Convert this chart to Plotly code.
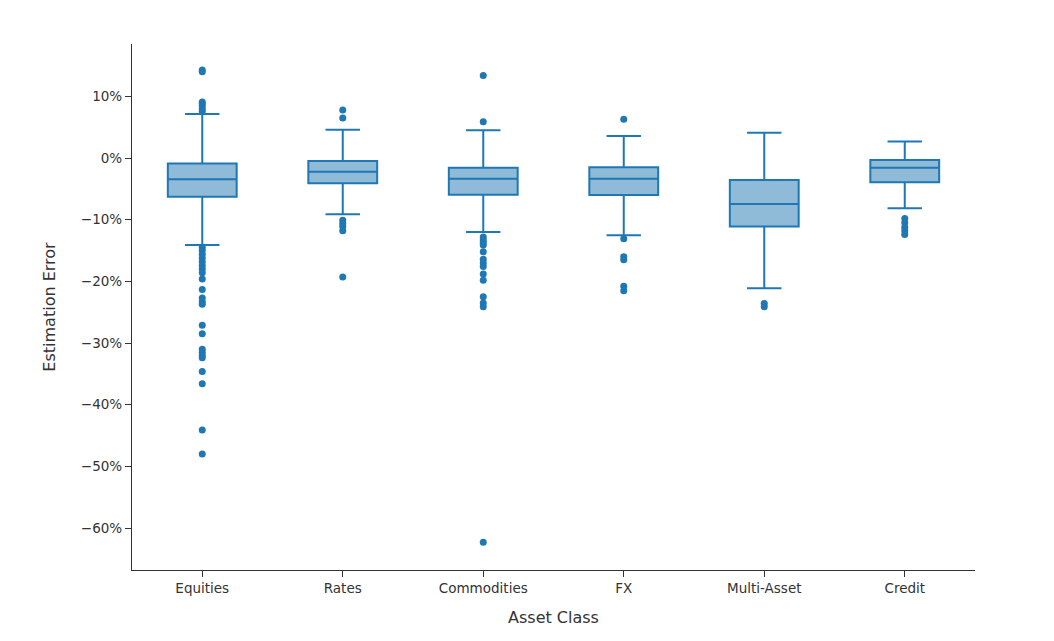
import plotly.graph_objects as go

categories = ["Equities", "Rates", "Commodities", "FX", "Multi-Asset", "Credit"]
q1 = [-6.27, -4.1, -5.95, -6.0, -11.1, -3.9]
median = [-3.45, -2.2, -3.35, -3.35, -7.45, -1.57]
q3 = [-0.86, -0.49, -1.57, -1.5, -3.57, -0.32]
lower_fence = [-14.1, -9.1, -12.0, -12.5, -21.1, -8.15]
upper_fence = [7.13, 4.6, 4.5, 3.57, 4.1, 2.7]

outliers_equities = [14.3, 14.0, 9.1, 8.8, 8.5, 8.0, 7.6,
                     -14.5, -15.0, -15.6, -16.2, -16.8, -17.4, -18.0, -18.6,
                     -19.6, -21.3, -22.7, -23.3, -23.7,
                     -27.1, -28.5, -31.0, -31.5, -32.0, -32.4, -34.6, -36.6,
                     -44.1, -48.0]
outliers_rates = [7.8, 6.5, -10.1, -10.6, -11.1, -11.8, -19.3]
outliers_commodities = [13.4, 5.9, -12.8, -13.3, -13.7, -14.1, -15.2, -16.4,
                        -17.0, -17.6, -18.8, -19.8, -22.5, -23.5, -24.1, -62.3]
outliers_fx = [6.3, -13.1, -16.0, -16.5, -20.8, -21.5]
outliers_multi = [-23.6, -24.1]
outliers_credit = [-9.8, -10.5, -11.2, -11.8, -12.4]

outliers = [outliers_equities, outliers_rates, outliers_commodities,
            outliers_fx, outliers_multi, outliers_credit]

color = "#1f77b4"
font_family = "DejaVu Sans, Verdana, sans-serif"

fig = go.Figure()
fig.add_trace(go.Box(
    x=categories,
    q1=q1, median=median, q3=q3,
    lowerfence=lower_fence, upperfence=upper_fence,
    line=dict(color=color, width=2),
    fillcolor="rgba(31,119,180,0.5)",
    whiskerwidth=0.5,
    showlegend=False,
))

ox, oy = [], []
for cat, vals in zip(categories, outliers):
    for v in vals:
        ox.append(cat)
        oy.append(v)

fig.add_trace(go.Scatter(
    x=ox, y=oy, mode="markers",
    marker=dict(color=color, size=7),
    showlegend=False,
))

fig.update_layout(
    width=1054, height=641,
    margin=dict(l=124, r=87, t=36, b=79),
    plot_bgcolor="white", paper_bgcolor="white",
    font=dict(family=font_family, size=13, color="#333"),
    xaxis=dict(
        title=dict(text="Asset Class", font=dict(size=16, color="#333"), standoff=16),
        showline=True, linecolor="#333", linewidth=1.2,
        ticks="outside", ticklen=6, tickcolor="#333",
        showgrid=False, zeroline=False,
        categoryorder="array", categoryarray=categories,
        tickfont=dict(size=13.5, color="#333"),
    ),
    yaxis=dict(
        title=dict(text="Estimation Error", font=dict(size=16, color="#333"), standoff=21),
        showline=True, linecolor="#333", linewidth=1.2,
        ticks="outside", ticklen=6, tickcolor="#333",
        showgrid=False, zeroline=False,
        range=[-66.8, 18.5], dtick=10, tick0=0,
        ticksuffix="%",
        tickfont=dict(size=13.5, color="#333"),
    ),
)

fig.write_html("out.html")
